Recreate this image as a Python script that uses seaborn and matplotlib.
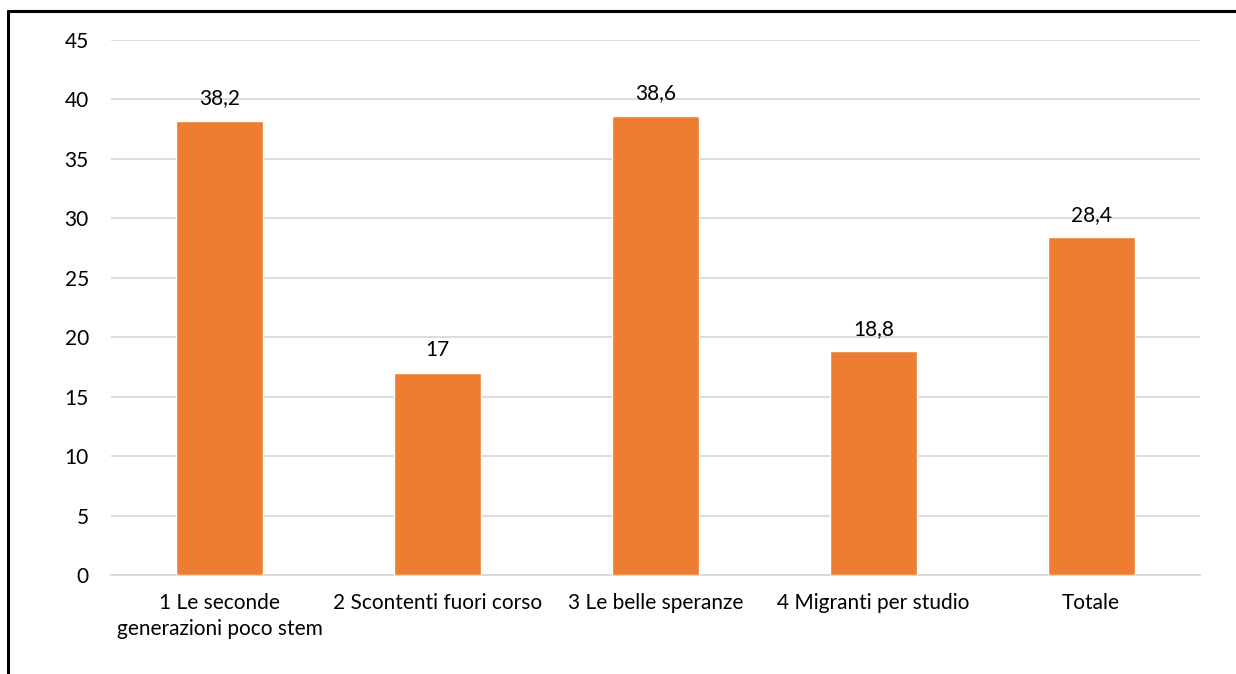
import matplotlib
matplotlib.use("Agg")
import matplotlib.pyplot as plt
import seaborn as sns
import pandas as pd
from matplotlib.lines import Line2D

categories = ["1 Le seconde\ngenerazioni poco stem", "2 Scontenti fuori corso",
              "3 Le belle speranze", "4 Migranti per studio", "Totale"]
values = [38.2, 17, 38.6, 18.8, 28.4]
value_labels = ["38,2", "17", "38,6", "18,8", "28,4"]
yticks = [0, 5, 10, 15, 20, 25, 30, 35, 40, 45]

sns.set_theme(style="white")
plt.rcParams['font.family'] = ['Lato', 'DejaVu Sans']

df = pd.DataFrame({"cat": categories, "val": values})

fig = plt.figure(figsize=(12.36, 6.74), dpi=100)
ax = fig.add_axes([111/1236, 1-575/674, (1200-111)/1236, (575-40)/674])
sns.barplot(data=df, x="cat", y="val", color="#ED7D31", saturation=1,
            width=0.4, ax=ax, zorder=3)
ax.set_ylim(0, 45)
ax.set_yticks(yticks)
ax.set_yticklabels([str(t) for t in yticks], fontsize=15, color="#000000")
for lbl in ax.get_xticklabels():
    lbl.set_linespacing(1.35)
ax.tick_params(axis='x', labelsize=15, colors="#000000", length=0, pad=13)
ax.tick_params(axis='y', length=0, pad=16)
ax.set_xlabel("")
ax.set_ylabel("")
ax.grid(axis='y', color="#D9D9D9", linewidth=1.3, zorder=0)
ax.set_axisbelow(True)
for s in ["top", "right", "left"]:
    ax.spines[s].set_visible(False)
ax.spines["bottom"].set_color("#D9D9D9")
ax.spines["bottom"].set_linewidth(1.3)
ax.set_xlim(-0.5, len(categories) - 0.5)

for p, lab in zip(ax.patches, value_labels):
    ax.annotate(lab, (p.get_x() + p.get_width()/2, p.get_height()),
                xytext=(0, 9), textcoords="offset points",
                ha="center", va="bottom", fontsize=15, color="#000000")

fig.add_artist(Line2D([8/1236, 8/1236], [0, 1-11/674], color="black", linewidth=2.2,
                      transform=fig.transFigure))
fig.add_artist(Line2D([8/1236, 1], [1-11/674, 1-11/674], color="black", linewidth=2.2,
                      transform=fig.transFigure))

fig.savefig("out.png", dpi=100)
